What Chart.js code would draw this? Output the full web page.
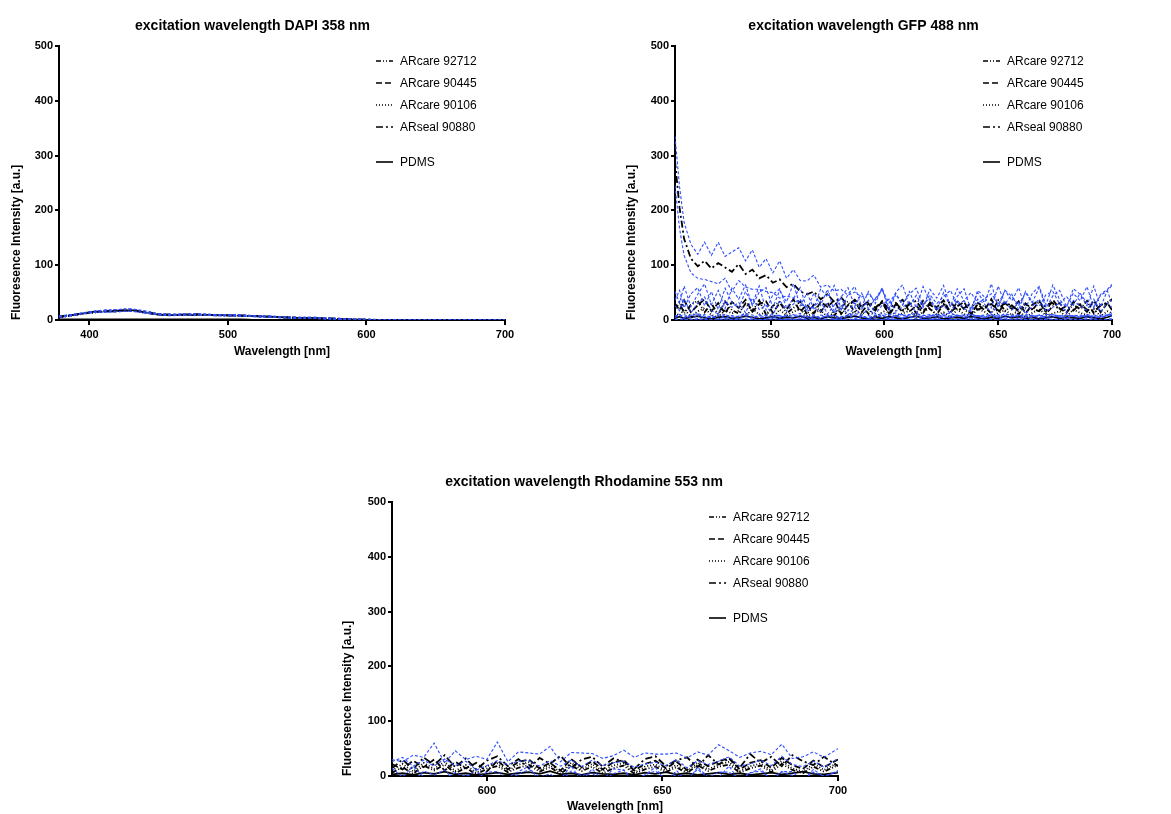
<!DOCTYPE html>
<html>
<head>
<meta charset="utf-8">
<title>Fluorescence spectra</title>
<script src="https://cdn.jsdelivr.net/npm/chart.js@4.4.1/dist/chart.umd.min.js"></script>
<style>
  body { margin: 0; background: #fff; width: 1171px; height: 814px; position: relative; overflow: hidden; }
  canvas { position: absolute; }
</style>
</head>
<body>
<canvas id="dapiChart" width="560" height="370" style="left:0;top:0"></canvas>
<canvas id="gfpChart" width="556" height="370" style="left:615px;top:0"></canvas>
<canvas id="rhodChart" width="560" height="374" style="left:330px;top:440px"></canvas>
<script>
// series order: ARcare 92712, ARcare 90445, ARcare 90106, ARseal 90880, PDMS
const seriesNames = ['ARcare 92712', 'ARcare 90445', 'ARcare 90106', 'ARseal 90880', 'PDMS'];
const yTicks = [0, 100, 200, 300, 400, 500];

// --- DAPI 358 nm ---
const dapiX = [378, 390, 400, 410, 420, 430, 440, 450, 460, 470,
               480, 490, 500, 510, 520, 530, 540, 550, 560, 570,
               580, 590, 600, 610, 620, 630, 640, 650, 660, 670,
               680, 690, 700];
const dapiXTicks = [400, 500, 600, 700];
const dapi92712 = [5, 10, 13, 15, 16, 17, 14, 10, 9, 9, 9, 9, 8, 8, 7, 6, 5, 4, 3, 3, 2, 1, 0, 0, 0, 0, 0, 0, 0, 0, 0, 0, 0];
const dapi90445 = [6, 10, 14, 16, 17, 18, 14, 10, 9, 10, 10, 9, 9, 8, 7, 6, 5, 4, 4, 3, 2, 1, 0, 0, 0, 0, 0, 0, 0, 0, 0, 0, 0];
const dapi90106 = [5, 9, 13, 15, 16, 17, 13, 10, 9, 9, 9, 9, 8, 7, 7, 6, 5, 4, 3, 2, 2, 1, 0, 0, 0, 0, 0, 0, 0, 0, 0, 0, 0];
const dapi90880 = [6, 10, 14, 16, 17, 18, 15, 11, 10, 10, 10, 9, 9, 8, 7, 6, 5, 4, 4, 3, 2, 1, 1, 0, 0, 0, 0, 0, 0, 0, 0, 0, 0];
const dapiPDMS  = [1, 1, 1, 1, 1, 1, 1, 1, 1, 1, 1, 1, 1, 1, 0, 0, 0, 0, 0, 0, 0, 0, 0, 0, 0, 0, 0, 0, 0, 0, 0, 0, 0];
const dapiSd90880 = [1, 1, 1, 2, 2, 2, 2, 1, 1, 1, 1, 1, 1, 1, 1, 1, 1, 1, 1, 1, 1, 1, 1, 0, 0, 0, 0, 0, 0, 0, 0, 0, 0];
const dapiSd90445 = [1, 1, 1, 1, 2, 2, 1, 1, 1, 1, 1, 1, 1, 1, 1, 1, 1, 1, 1, 1, 1, 1, 0, 0, 0, 0, 0, 0, 0, 0, 0, 0, 0];

// --- GFP 488 nm ---
const gfpX = [508, 510, 512, 515, 518, 521, 524, 527, 530, 533,
              536, 539, 542, 545, 548, 551, 554, 557, 560, 563,
              566, 569, 572, 575, 578, 581, 584, 587, 590, 593,
              596, 599, 602, 605, 608, 611, 614, 617, 620, 623,
              626, 629, 632, 635, 638, 641, 644, 647, 650, 653,
              656, 659, 662, 665, 668, 671, 674, 677, 680, 683,
              686, 689, 692, 695, 698, 700];
const gfpXTicks = [550, 600, 650, 700];
const gfp92712 = [20, 32, 12, 28, 35, 14, 30, 10, 34, 18,
                  12, 30, 16, 36, 10, 26, 33, 12, 22, 34,
                  10, 28, 15, 32, 8, 24, 34, 14, 28, 11,
                  22, 33, 9, 27, 15, 30, 12, 35, 20, 10,
                  29, 14, 33, 20, 9, 31, 24, 12, 36, 16,
                  27, 10, 30, 18, 34, 12, 25, 31, 14, 28,
                  20, 35, 12, 27, 32, 38];
const gfpSd92712 = [16, 22, 10, 20, 24, 12, 22, 9, 24, 14,
                    10, 22, 13, 26, 8, 20, 24, 10, 17, 25,
                    9, 21, 12, 24, 7, 18, 25, 11, 21, 9,
                    17, 24, 8, 20, 12, 22, 10, 26, 15, 8,
                    21, 11, 24, 15, 8, 23, 18, 10, 26, 13,
                    20, 8, 22, 14, 25, 10, 19, 23, 11, 21,
                    15, 26, 10, 20, 24, 27];
const gfp90445 = [30, 18, 36, 14, 27, 38, 16, 31, 12, 33,
                  22, 37, 15, 29, 34, 13, 31, 19, 38, 15,
                  28, 12, 33, 24, 36, 11, 27, 35, 14, 30,
                  17, 34, 12, 29, 37, 15, 26, 13, 32, 23,
                  36, 14, 25, 33, 11, 29, 18, 38, 13, 31,
                  20, 34, 12, 28, 35, 16, 37, 21, 13, 33,
                  27, 15, 36, 14, 31, 38];
const gfpSd90445 = [22, 13, 26, 10, 20, 28, 12, 23, 9, 25,
                    16, 27, 11, 22, 25, 10, 23, 14, 28, 11,
                    21, 9, 24, 18, 27, 8, 20, 26, 10, 22,
                    13, 25, 9, 21, 27, 11, 19, 10, 24, 17,
                    27, 10, 18, 24, 8, 21, 13, 28, 10, 23,
                    15, 25, 9, 21, 26, 12, 27, 16, 10, 24,
                    20, 11, 26, 10, 23, 25];
const gfp90106 = [14, 8, 20, 6, 16, 22, 9, 5, 18, 12,
                  17, 6, 21, 10, 14, 4, 19, 8, 15, 20,
                  7, 13, 18, 5, 14, 21, 8, 16, 10, 19,
                  5, 14, 20, 8, 12, 17, 6, 15, 21, 9,
                  14, 5, 19, 11, 7, 20, 15, 6, 13, 18,
                  9, 17, 5, 13, 20, 8, 12, 16, 6, 19,
                  13, 9, 20, 7, 16, 12];
const gfpSd90106 = [12, 9, 18, 7, 15, 20, 8, 6, 16, 11,
                    15, 7, 19, 9, 13, 5, 17, 8, 14, 18,
                    8, 12, 16, 6, 13, 19, 9, 15, 10, 17,
                    6, 13, 18, 8, 11, 16, 7, 14, 19, 9,
                    13, 6, 17, 10, 8, 18, 14, 7, 12, 16,
                    9, 15, 6, 12, 18, 8, 11, 15, 7, 17,
                    12, 9, 18, 8, 15, 11];
const gfp90880 = [290, 205, 148, 112, 98, 108, 94, 104, 96, 88,
                  102, 84, 92, 76, 82, 68, 74, 60, 66, 52,
                  47, 52, 38, 47, 33, 41, 27, 37, 25, 34,
                  22, 34, 20, 31, 18, 29, 35, 17, 28, 19,
                  27, 33, 18, 22, 30, 19, 24, 29, 18, 32,
                  26, 17, 30, 20, 16, 28, 31, 18, 26, 17,
                  29, 19, 15, 27, 31, 18];
const gfpSd90880 = [45, 38, 30, 26, 22, 34, 24, 38, 20, 36,
                    30, 24, 36, 20, 30, 18, 34, 16, 26, 20,
                    24, 30, 22, 17, 20, 15, 18, 14, 17, 13,
                    14, 22, 11, 18, 10, 19, 23, 9, 18, 11,
                    16, 21, 10, 13, 20, 12, 15, 19, 11, 22,
                    17, 10, 20, 12, 9, 18, 21, 11, 17, 10,
                    20, 12, 9, 18, 22, 11];
const gfpPDMS = [4, 6, 3, 5, 7, 4, 2, 5, 6, 3,
                 4, 7, 5, 2, 4, 6, 3, 5, 4, 7,
                 3, 5, 2, 6, 4, 3, 5, 7, 4, 2,
                 5, 3, 6, 4, 2, 5, 7, 3, 4, 6,
                 2, 4, 5, 3, 6, 4, 2, 5, 3, 7,
                 4, 6, 3, 5, 2, 4, 6, 3, 5, 4,
                 3, 6, 4, 2, 5, 8];
const gfpSdPDMS = [3, 4, 2, 4, 5, 3, 2, 4, 4, 2,
                   3, 5, 4, 2, 3, 4, 2, 4, 3, 5,
                   2, 4, 2, 4, 3, 2, 4, 5, 3, 2,
                   4, 2, 4, 3, 2, 4, 5, 2, 3, 4,
                   2, 3, 4, 2, 4, 3, 2, 4, 2, 5,
                   3, 4, 2, 4, 2, 3, 4, 2, 4, 3,
                   2, 4, 3, 2, 4, 5];

// --- Rhodamine 553 nm ---
const rhodX = [573, 576, 579, 582, 585, 588, 591, 594, 597, 600,
               603, 606, 609, 612, 615, 618, 621, 624, 627, 630,
               633, 636, 639, 642, 645, 648, 651, 654, 657, 660,
               663, 666, 669, 672, 675, 678, 681, 684, 687, 690,
               693, 696, 700];
const rhodXTicks = [600, 650, 700];
const rhod92712 = [6, 16, 4, 19, 10, 21, 5, 15, 3, 13,
                   18, 7, 15, 20, 8, 16, 4, 19, 9, 17,
                   5, 14, 19, 4, 12, 17, 7, 16, 5, 20,
                   9, 17, 21, 6, 14, 19, 7, 22, 11, 5,
                   17, 8, 20];
const rhodSd92712 = [20, 18, 14, 10, 8, 10, 14, 12, 8, 6,
                     10, 14, 12, 8, 10, 12, 14, 10, 8, 12,
                     14, 10, 8, 12, 10, 8, 12, 14, 10, 8,
                     12, 10, 14, 12, 8, 10, 12, 14, 10, 12,
                     10, 8, 12];
const rhod90445 = [22, 12, 28, 16, 30, 10, 26, 14, 24, 8,
                   28, 12, 26, 30, 14, 24, 10, 31, 16, 27,
                   12, 25, 29, 10, 22, 28, 14, 26, 11, 30,
                   18, 27, 32, 12, 24, 29, 15, 33, 20, 13,
                   28, 16, 30];
const rhodSd90445 = [8, 14, 10, 18, 30, 14, 20, 16, 12, 22,
                     34, 14, 18, 12, 26, 30, 16, 12, 26, 14,
                     20, 12, 18, 24, 20, 12, 26, 16, 22, 14,
                     20, 30, 14, 22, 18, 16, 24, 25, 12, 22,
                     16, 18, 20];
const rhod90106 = [10, 22, 8, 24, 13, 26, 9, 20, 6, 18,
                   23, 9, 21, 25, 11, 20, 7, 24, 12, 22,
                   9, 19, 24, 6, 17, 21, 10, 20, 8, 25,
                   12, 21, 26, 9, 18, 23, 10, 27, 14, 8,
                   22, 11, 24];
const rhod90880 = [14, 30, 12, 34, 20, 38, 16, 32, 12, 28,
                   36, 18, 31, 14, 33, 22, 37, 15, 30, 35,
                   17, 32, 26, 13, 31, 36, 18, 29, 34, 16,
                   38, 21, 32, 15, 40, 24, 35, 18, 38, 27,
                   20, 35, 18];
const rhodPDMS = [3, 5, 2, 6, 4, 8, 3, 5, 2, 4,
                  6, 3, 5, 7, 4, 9, 3, 5, 2, 6,
                  4, 3, 5, 2, 6, 4, 7, 3, 5, 2,
                  4, 6, 3, 5, 2, 4, 6, 3, 5, 8,
                  4, 3, 6];

const FONT = 'Arial, "Liberation Sans", Helvetica, sans-serif';
const BLUE = '#2d4dff';
const dashes = [[5, 2, 1, 2, 1, 2], [6, 3], [1, 2], [7, 3, 2, 3], []];

function buildDatasets(xs, means, sds, smooth) {
    const sets = [];
    seriesNames.forEach((name, k) => {
        const mean = means[k];
        sets.push({
            label: name,
            data: xs.map((x, i) => ({ x: x, y: mean[i] })),
            borderColor: '#000',
            borderWidth: 1.8,
            borderDash: dashes[k],
            pointRadius: 0,
            tension: smooth ? 0.4 : 0,
            order: 1,
            inLegend: true
        });
        const sd = sds[k];
        if (sd) {
            [1, -1].forEach(sign => {
                sets.push({
                    label: name + (sign > 0 ? ' +SD' : ' -SD'),
                    data: xs.map((x, i) => ({ x: x, y: mean[i] + sign * sd[i] })),
                    borderColor: BLUE,
                    borderWidth: 1.1,
                    borderDash: [3, 2],
                    pointRadius: 0,
                    tension: smooth ? 0.4 : 0,
                    order: 0
                });
            });
        }
    });
    return sets;
}

// legend drawn inside the plot, top right (GraphPad style)
const sideLegend = {
    id: 'sideLegend',
    afterDraw(chart) {
        const { ctx, chartArea } = chart;
        const x0 = chartArea.right - 129;
        const rows = [15, 37, 59, 81, 116];
        const items = chart.data.datasets.filter(d => d.inLegend);
        ctx.save();
        ctx.font = '12px ' + FONT;
        ctx.textBaseline = 'middle';
        ctx.fillStyle = '#000';
        items.forEach((d, i) => {
            const y = chartArea.top + rows[i];
            ctx.strokeStyle = '#000';
            ctx.lineWidth = 1.6;
            ctx.setLineDash(d.borderDash || []);
            ctx.beginPath();
            ctx.moveTo(x0, y);
            ctx.lineTo(x0 + 17, y);
            ctx.stroke();
            ctx.setLineDash([]);
            ctx.fillText(d.label, x0 + 24, y + 1);
        });
        ctx.restore();
    }
};

function makeChart(id, cfg) {
    const ctx = document.getElementById(id).getContext('2d');
    return new Chart(ctx, {
        type: 'line',
        data: { datasets: cfg.datasets },
        options: {
            responsive: false,
            animation: false,
            devicePixelRatio: 1,
            layout: { padding: { left: 0, right: cfg.padRight, top: 0, bottom: 0 } },
            plugins: {
                legend: { display: false },
                tooltip: { enabled: false },
                title: {
                    display: true,
                    text: cfg.title,
                    color: '#000',
                    font: { family: FONT, size: 14, weight: 'bold' },
                    padding: { top: cfg.titleTop, bottom: cfg.titleBottom }
                }
            },
            scales: {
                x: {
                    type: 'linear',
                    min: cfg.xMin,
                    max: 700,
                    afterBuildTicks: (scale) => { scale.ticks = cfg.xTicks.map(v => ({ value: v })); },
                    afterFit: (scale) => { scale.height = cfg.xHeight; },
                    grid: { drawOnChartArea: false, drawTicks: true, tickLength: 5, color: '#000', lineWidth: 2 },
                    border: { display: true, color: '#000', width: 2 },
                    ticks: { color: '#000', padding: 3, maxRotation: 0, font: { family: FONT, size: 11, weight: 'bold' } },
                    title: {
                        display: true,
                        text: 'Wavelength [nm]',
                        color: '#000',
                        font: { family: FONT, size: 12, weight: 'bold' },
                        padding: { top: 0, bottom: cfg.xTitleBottom }
                    }
                },
                y: {
                    min: 0,
                    max: 500,
                    afterBuildTicks: (scale) => { scale.ticks = yTicks.map(v => ({ value: v })); },
                    afterFit: (scale) => { scale.width = cfg.yWidth; },
                    grid: { drawOnChartArea: false, drawTicks: true, tickLength: 4, color: '#000', lineWidth: 2 },
                    border: { display: true, color: '#000', width: 2 },
                    ticks: { color: '#000', padding: 2, font: { family: FONT, size: 11, weight: 'bold' } },
                    title: {
                        display: true,
                        align: 'start',
                        text: 'Fluoresence Intensity [a.u.]',
                        color: '#000',
                        font: { family: FONT, size: 12, weight: 'bold' },
                        padding: { top: cfg.yTitleTop, bottom: 0 }
                    }
                }
            }
        },
        plugins: [sideLegend]
    });
}

makeChart('dapiChart', {
    title: 'excitation wavelength DAPI 358 nm',
    datasets: buildDatasets(dapiX, [dapi92712, dapi90445, dapi90106, dapi90880, dapiPDMS],
                            [null, dapiSd90445, null, dapiSd90880, null], true),
    xMin: 378, xTicks: dapiXTicks,
    padRight: 55, titleTop: 17.6, titleBottom: 11.6,
    yWidth: 59, yTitleTop: 9.8, xHeight: 50, xTitleBottom: 10.8
});

makeChart('gfpChart', {
    title: 'excitation wavelength GFP 488 nm',
    datasets: buildDatasets(gfpX, [gfp92712, gfp90445, gfp90106, gfp90880, gfpPDMS],
                            [gfpSd92712, gfpSd90445, gfpSd90106, gfpSd90880, gfpSdPDMS], false),
    xMin: 508, xTicks: gfpXTicks,
    padRight: 59, titleTop: 17.6, titleBottom: 11.6,
    yWidth: 60, yTitleTop: 9.8, xHeight: 50, xTitleBottom: 10.8
});

makeChart('rhodChart', {
    title: 'excitation wavelength Rhodamine 553 nm',
    datasets: buildDatasets(rhodX, [rhod92712, rhod90445, rhod90106, rhod90880, rhodPDMS],
                            [rhodSd92712, rhodSd90445, null, null, null], false),
    xMin: 573, xTicks: rhodXTicks,
    padRight: 52, titleTop: 33.6, titleBottom: 11.6,
    yWidth: 62, yTitleTop: 10.8, xHeight: 38, xTitleBottom: 0
});
</script>
</body>
</html>
